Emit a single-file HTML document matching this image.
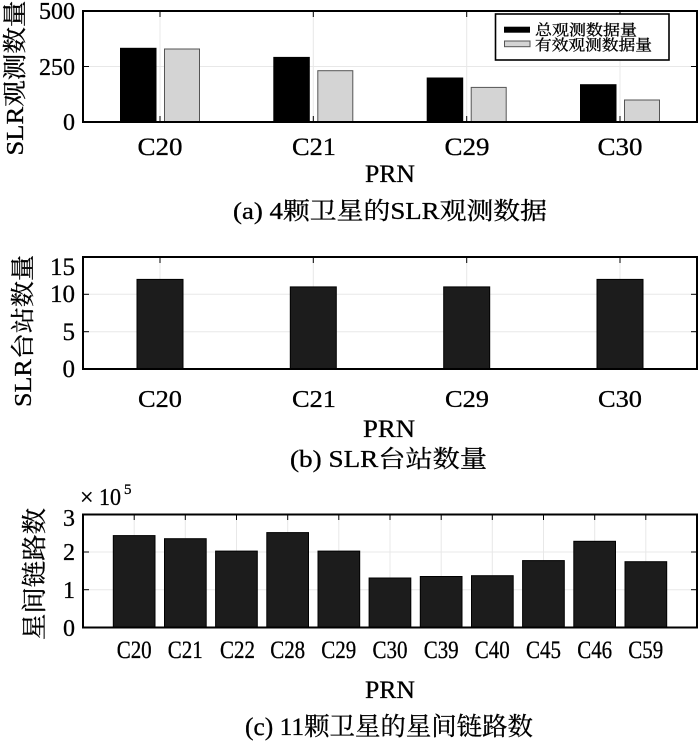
<!DOCTYPE html>
<html>
<head>
<meta charset="utf-8">
<style>
html,body{margin:0;padding:0;background:#fff;}
svg{display:block;}
text{font-family:"Liberation Serif","Noto Serif CJK SC","Noto Sans CJK SC",serif;fill:#000;stroke:#000;stroke-width:0.3;}
</style>
</head>
<body>
<svg width="700" height="741" viewBox="0 0 700 741" xmlns="http://www.w3.org/2000/svg">
<rect x="0" y="0" width="700" height="741" fill="#fff"/>

<!-- ================= Chart (a) ================= -->
<g>
  <rect x="83" y="11" width="614" height="111" fill="#fff"/>
  <g stroke="#e8e8e8" stroke-width="1">
    <line x1="160" y1="11" x2="160" y2="122"/>
    <line x1="313.3" y1="11" x2="313.3" y2="122"/>
    <line x1="466.7" y1="11" x2="466.7" y2="122"/>
    <line x1="620" y1="11" x2="620" y2="122"/>
    <line x1="83" y1="66.5" x2="697" y2="66.5"/>
  </g>
  <g fill="#000" stroke="#000" stroke-width="1">
    <rect x="120.5" y="48.3" width="35.5" height="73.7"/>
    <rect x="273.8" y="57.4" width="35.5" height="64.6"/>
    <rect x="427.2" y="78" width="35.5" height="44"/>
    <rect x="580.5" y="84.7" width="35.5" height="37.3"/>
  </g>
  <g fill="#d4d4d4" stroke="#555" stroke-width="1">
    <rect x="164.5" y="49" width="35" height="73"/>
    <rect x="317.8" y="70.7" width="35" height="51.3"/>
    <rect x="471.2" y="87.4" width="35" height="34.6"/>
    <rect x="624.5" y="100" width="35" height="22"/>
  </g>
  <g stroke="#000" stroke-width="1">
    <line x1="160" y1="122" x2="160" y2="116"/><line x1="160" y1="11" x2="160" y2="17"/>
    <line x1="313.3" y1="122" x2="313.3" y2="116"/><line x1="313.3" y1="11" x2="313.3" y2="17"/>
    <line x1="466.7" y1="122" x2="466.7" y2="116"/><line x1="466.7" y1="11" x2="466.7" y2="17"/>
    <line x1="620" y1="122" x2="620" y2="116"/><line x1="620" y1="11" x2="620" y2="17"/>
    <line x1="83" y1="66.5" x2="89" y2="66.5"/><line x1="697" y1="66.5" x2="691" y2="66.5"/>
  </g>
  <rect x="83" y="11" width="614" height="111" fill="none" stroke="#000" stroke-width="2"/>
  <rect x="495.5" y="14" width="173.5" height="46" fill="#fff" stroke="#000" stroke-width="1.6"/>
  <rect x="504" y="26.7" width="26" height="6" fill="#000"/>
  <rect x="504.5" y="41" width="25.5" height="5.7" fill="#d4d4d4" stroke="#555" stroke-width="1"/>
  <text x="535" y="35" font-size="15" textLength="102" lengthAdjust="spacingAndGlyphs">总观测数据量</text>
  <text x="535" y="50" font-size="15" textLength="117" lengthAdjust="spacingAndGlyphs">有效观测数据量</text>
  <g font-size="24" text-anchor="end">
    <text x="75" y="19">500</text>
    <text x="75" y="75">250</text>
    <text x="75" y="130">0</text>
  </g>
  <g font-size="25" text-anchor="middle">
    <text x="160" y="155" textLength="45" lengthAdjust="spacingAndGlyphs">C20</text>
    <text x="314" y="155" textLength="44" lengthAdjust="spacingAndGlyphs">C21</text>
    <text x="467" y="155" textLength="45" lengthAdjust="spacingAndGlyphs">C29</text>
    <text x="620" y="155" textLength="45" lengthAdjust="spacingAndGlyphs">C30</text>
  </g>
  <text x="390" y="182" font-size="25" text-anchor="middle" textLength="50" lengthAdjust="spacingAndGlyphs">PRN</text>
  <text x="233" y="219" font-size="24" textLength="314" lengthAdjust="spacingAndGlyphs">(a) 4颗卫星的SLR观测数据</text>
  <text transform="translate(23,78) rotate(-90)" font-size="24" text-anchor="middle" textLength="155" lengthAdjust="spacingAndGlyphs">SLR观测数量</text>
</g>

<!-- ================= Chart (b) ================= -->
<g>
  <rect x="83" y="257" width="614" height="112" fill="#fff"/>
  <g stroke="#e8e8e8" stroke-width="1">
    <line x1="160" y1="257" x2="160" y2="369"/>
    <line x1="313.3" y1="257" x2="313.3" y2="369"/>
    <line x1="466.7" y1="257" x2="466.7" y2="369"/>
    <line x1="620" y1="257" x2="620" y2="369"/>
    <line x1="83" y1="294.3" x2="697" y2="294.3"/>
    <line x1="83" y1="331.7" x2="697" y2="331.7"/>
  </g>
  <g fill="#1c1c1c" stroke="#000" stroke-width="1">
    <rect x="137" y="279.4" width="46" height="89.6"/>
    <rect x="290.3" y="286.9" width="46" height="82.1"/>
    <rect x="443.7" y="286.9" width="46" height="82.1"/>
    <rect x="597" y="279.4" width="46" height="89.6"/>
  </g>
  <g stroke="#000" stroke-width="1">
    <line x1="160" y1="257" x2="160" y2="263"/>
    <line x1="313.3" y1="257" x2="313.3" y2="263"/>
    <line x1="466.7" y1="257" x2="466.7" y2="263"/>
    <line x1="620" y1="257" x2="620" y2="263"/>
    <line x1="83" y1="294.3" x2="89" y2="294.3"/><line x1="697" y1="294.3" x2="691" y2="294.3"/>
    <line x1="83" y1="331.7" x2="89" y2="331.7"/><line x1="697" y1="331.7" x2="691" y2="331.7"/>
  </g>
  <rect x="83" y="257" width="614" height="112" fill="none" stroke="#000" stroke-width="2"/>
  <g font-size="25" text-anchor="end">
    <text x="75" y="275">15</text>
    <text x="75" y="302">10</text>
    <text x="75" y="340">5</text>
    <text x="75" y="377">0</text>
  </g>
  <g font-size="24" text-anchor="middle">
    <text x="160" y="407" textLength="44" lengthAdjust="spacingAndGlyphs">C20</text>
    <text x="314" y="407" textLength="44" lengthAdjust="spacingAndGlyphs">C21</text>
    <text x="467" y="407" textLength="44" lengthAdjust="spacingAndGlyphs">C29</text>
    <text x="620" y="407" textLength="44" lengthAdjust="spacingAndGlyphs">C30</text>
  </g>
  <text x="389" y="437" font-size="25" text-anchor="middle" textLength="52" lengthAdjust="spacingAndGlyphs">PRN</text>
  <text x="290" y="467" font-size="24" textLength="197" lengthAdjust="spacingAndGlyphs">(b) SLR台站数量</text>
  <text transform="translate(31,331) rotate(-90)" font-size="24" text-anchor="middle" textLength="152" lengthAdjust="spacingAndGlyphs">SLR台站数量</text>
</g>

<!-- ================= Chart (c) ================= -->
<g>
  <rect x="83" y="514.5" width="614" height="113" fill="#fff"/>
  <g stroke="#e8e8e8" stroke-width="1">
    <line x1="134.2" y1="514.5" x2="134.2" y2="627.5"/>
    <line x1="185.3" y1="514.5" x2="185.3" y2="627.5"/>
    <line x1="236.5" y1="514.5" x2="236.5" y2="627.5"/>
    <line x1="287.7" y1="514.5" x2="287.7" y2="627.5"/>
    <line x1="338.8" y1="514.5" x2="338.8" y2="627.5"/>
    <line x1="390" y1="514.5" x2="390" y2="627.5"/>
    <line x1="441.2" y1="514.5" x2="441.2" y2="627.5"/>
    <line x1="492.3" y1="514.5" x2="492.3" y2="627.5"/>
    <line x1="543.5" y1="514.5" x2="543.5" y2="627.5"/>
    <line x1="594.7" y1="514.5" x2="594.7" y2="627.5"/>
    <line x1="645.8" y1="514.5" x2="645.8" y2="627.5"/>
    <line x1="83" y1="552" x2="697" y2="552"/>
    <line x1="83" y1="589.7" x2="697" y2="589.7"/>
  </g>
  <g fill="#1c1c1c" stroke="#000" stroke-width="1">
    <rect x="113.3" y="535.6" width="41.7" height="91.9"/>
    <rect x="164.5" y="538.7" width="41.7" height="88.8"/>
    <rect x="215.6" y="551.1" width="41.7" height="76.4"/>
    <rect x="266.8" y="532.6" width="41.7" height="94.9"/>
    <rect x="318" y="551.1" width="41.7" height="76.4"/>
    <rect x="369.1" y="578" width="41.7" height="49.5"/>
    <rect x="420.3" y="576.5" width="41.7" height="51"/>
    <rect x="471.5" y="575.7" width="41.7" height="51.8"/>
    <rect x="522.6" y="560.6" width="41.7" height="66.9"/>
    <rect x="573.8" y="541.3" width="41.7" height="86.2"/>
    <rect x="625" y="561.7" width="41.7" height="65.8"/>
  </g>
  <g stroke="#000" stroke-width="1">
    <line x1="134.2" y1="514.5" x2="134.2" y2="520"/>
    <line x1="185.3" y1="514.5" x2="185.3" y2="520"/>
    <line x1="236.5" y1="514.5" x2="236.5" y2="520"/>
    <line x1="287.7" y1="514.5" x2="287.7" y2="520"/>
    <line x1="338.8" y1="514.5" x2="338.8" y2="520"/>
    <line x1="390" y1="514.5" x2="390" y2="520"/>
    <line x1="441.2" y1="514.5" x2="441.2" y2="520"/>
    <line x1="492.3" y1="514.5" x2="492.3" y2="520"/>
    <line x1="543.5" y1="514.5" x2="543.5" y2="520"/>
    <line x1="594.7" y1="514.5" x2="594.7" y2="520"/>
    <line x1="645.8" y1="514.5" x2="645.8" y2="520"/>
    <line x1="83" y1="552" x2="89" y2="552"/><line x1="697" y1="552" x2="691" y2="552"/>
    <line x1="83" y1="589.7" x2="89" y2="589.7"/><line x1="697" y1="589.7" x2="691" y2="589.7"/>
  </g>
  <rect x="83" y="514.5" width="614" height="113" fill="none" stroke="#000" stroke-width="2"/>
  <g font-size="24" text-anchor="end">
    <text x="75" y="526">3</text>
    <text x="75" y="560">2</text>
    <text x="75" y="598">1</text>
    <text x="75" y="636">0</text>
  </g>
  <text x="80" y="505" font-size="24">×</text>
  <text x="99" y="505" font-size="24" textLength="22" lengthAdjust="spacingAndGlyphs">10</text>
  <text x="124" y="494" font-size="15">5</text>
  <g font-size="25" text-anchor="middle">
    <text x="134.2" y="658" textLength="35" lengthAdjust="spacingAndGlyphs">C20</text>
    <text x="185.3" y="658" textLength="35" lengthAdjust="spacingAndGlyphs">C21</text>
    <text x="237.5" y="658" textLength="35" lengthAdjust="spacingAndGlyphs">C22</text>
    <text x="287.7" y="658" textLength="35" lengthAdjust="spacingAndGlyphs">C28</text>
    <text x="338.8" y="658" textLength="35" lengthAdjust="spacingAndGlyphs">C29</text>
    <text x="390" y="658" textLength="35" lengthAdjust="spacingAndGlyphs">C30</text>
    <text x="441.2" y="658" textLength="35" lengthAdjust="spacingAndGlyphs">C39</text>
    <text x="492.3" y="658" textLength="35" lengthAdjust="spacingAndGlyphs">C40</text>
    <text x="543.5" y="658" textLength="35" lengthAdjust="spacingAndGlyphs">C45</text>
    <text x="594.7" y="658" textLength="35" lengthAdjust="spacingAndGlyphs">C46</text>
    <text x="645.8" y="658" textLength="35" lengthAdjust="spacingAndGlyphs">C59</text>
  </g>
  <text x="390" y="698" font-size="25" text-anchor="middle" textLength="50" lengthAdjust="spacingAndGlyphs">PRN</text>
  <text x="245" y="735" font-size="25" textLength="288" lengthAdjust="spacingAndGlyphs">(c) 11颗卫星的星间链路数</text>
  <text transform="translate(43,574) rotate(-90)" font-size="25" text-anchor="middle" textLength="132" lengthAdjust="spacingAndGlyphs">星间链路数</text>
</g>
</svg>
</body>
</html>
